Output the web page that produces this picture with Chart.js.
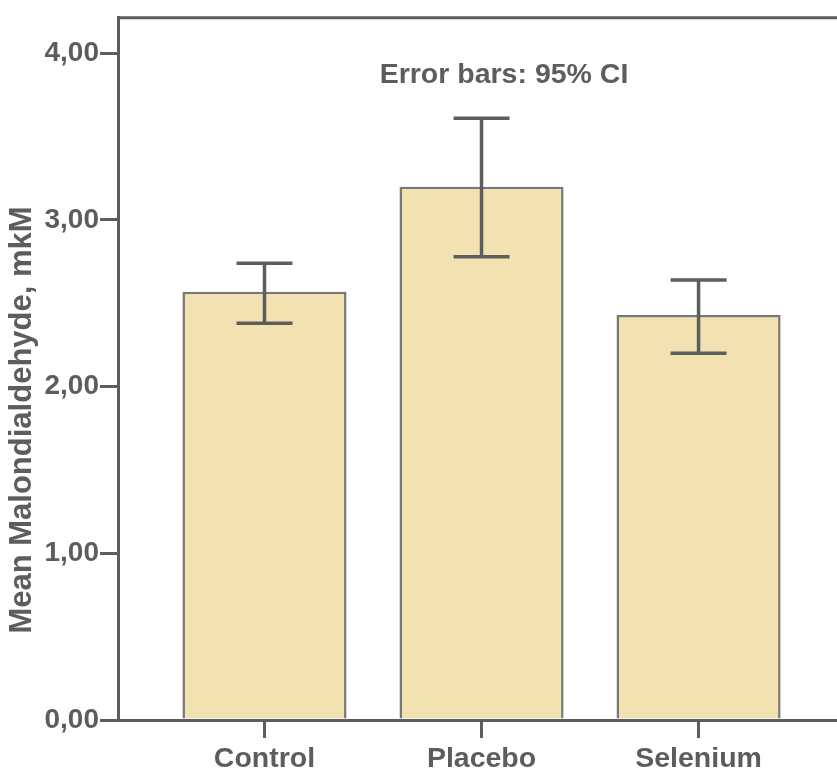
<!DOCTYPE html>
<html>
<head>
<meta charset="utf-8">
<script src="https://cdn.jsdelivr.net/npm/chart.js@4/dist/chart.umd.min.js"></script>
<style>
  html, body { margin: 0; padding: 0; background: #fff; overflow: hidden; }
  #wrap { position: relative; width: 880px; height: 774px; }
</style>
</head>
<body>
<div id="wrap"><canvas id="chart"></canvas></div>
<script>
// datos
const categories = ["Control", "Placebo", "Selenium"];
const means = [2.57, 3.20, 2.43];
const ciLow = [2.38, 2.78, 2.20];
const ciHigh = [2.74, 3.61, 2.64];
const yTicks = [0, 1, 2, 3, 4];

const GREY = "#5c5e5e";
const FONT = "'Liberation Sans', Arial, sans-serif";

// marco superior y derecho
const framePlugin = {
  id: "frame",
  afterDraw(chart) {
    const { ctx, chartArea } = chart;
    ctx.save();
    ctx.strokeStyle = GREY;
    ctx.lineWidth = 3;
    ctx.beginPath();
    ctx.moveTo(chartArea.left, chartArea.top);
    ctx.lineTo(chartArea.right, chartArea.top);
    ctx.lineTo(chartArea.right, chartArea.bottom);
    ctx.stroke();
    ctx.restore();
  },
};

// barras de error (IC 95%)
const errorBarPlugin = {
  id: "errorBars",
  afterDatasetsDraw(chart) {
    const { ctx, scales } = chart;
    ctx.save();
    ctx.strokeStyle = GREY;
    ctx.lineWidth = 3.5;
    categories.forEach((c, i) => {
      const x = scales.x.getPixelForValue(i);
      const yLo = scales.y.getPixelForValue(ciLow[i]);
      const yHi = scales.y.getPixelForValue(ciHigh[i]);
      ctx.beginPath();
      ctx.moveTo(x, yLo);
      ctx.lineTo(x, yHi);
      ctx.moveTo(x - 28, yHi);
      ctx.lineTo(x + 28, yHi);
      ctx.moveTo(x - 28, yLo);
      ctx.lineTo(x + 28, yLo);
      ctx.stroke();
    });
    ctx.restore();
  },
};

// textos: nota y título del eje Y
const textPlugin = {
  id: "texts",
  afterDraw(chart) {
    const { ctx } = chart;
    ctx.save();
    ctx.fillStyle = GREY;
    ctx.textAlign = "center";
    ctx.textBaseline = "middle";
    ctx.font = "bold 28.5px " + FONT;
    ctx.fillText("Error bars: 95% CI", 504, 75);
    ctx.translate(22, 420);
    ctx.rotate(-Math.PI / 2);
    ctx.font = "bold 31px " + FONT;
    ctx.fillText("Mean Malondialdehyde, mkM", 0, 0);
    ctx.restore();
  },
};

const ctx = document.getElementById("chart").getContext("2d");
new Chart(ctx, {
  type: "bar",
  data: {
    datasets: [
      {
        data: categories.map((c, i) => ({ x: i, y: means[i] })),
        backgroundColor: "#f2e2b1",
        borderColor: "#767878",
        borderWidth: 2.5,
        borderSkipped: "start",
        categoryPercentage: 1,
        barPercentage: 0.756,
      },
    ],
  },
  options: {
    responsive: true,
    maintainAspectRatio: false,
    animation: false,
    layout: { padding: { top: 16, left: 0, right: 0, bottom: 0 } },
    plugins: {
      legend: { display: false },
      tooltip: { enabled: false },
    },
    scales: {
      x: {
        type: "linear",
        offset: false,
        min: -0.675,
        max: 2.836,
        afterBuildTicks(scale) {
          scale.ticks = categories.map((c, i) => ({ value: i }));
        },
        afterFit(scale) {
          scale.height = 54;
        },
        grid: {
          offset: false,
          drawOnChartArea: false,
          drawTicks: true,
          tickLength: 18,
          color: GREY,
          lineWidth: 3,
        },
        border: { display: true, color: GREY, width: 3 },
        ticks: {
          color: GREY,
          padding: 4,
          font: { family: FONT, size: 28.5, weight: "bold" },
          callback: (v) => categories[v],
        },
      },
      y: {
        min: 0,
        max: 4.213,
        afterBuildTicks(scale) {
          scale.ticks = yTicks.map((v) => ({ value: v }));
        },
        afterFit(scale) {
          scale.width = 118;
        },
        grid: {
          drawOnChartArea: false,
          drawTicks: true,
          tickLength: 18,
          color: GREY,
          lineWidth: 3,
        },
        border: { display: true, color: GREY, width: 3 },
        ticks: {
          color: GREY,
          padding: 1,
          font: { family: FONT, size: 28, weight: "bold" },
          callback: (v) => v.toFixed(2).replace(".", ","),
        },
      },
    },
  },
  plugins: [framePlugin, errorBarPlugin, textPlugin],
});
</script>
</body>
</html>
